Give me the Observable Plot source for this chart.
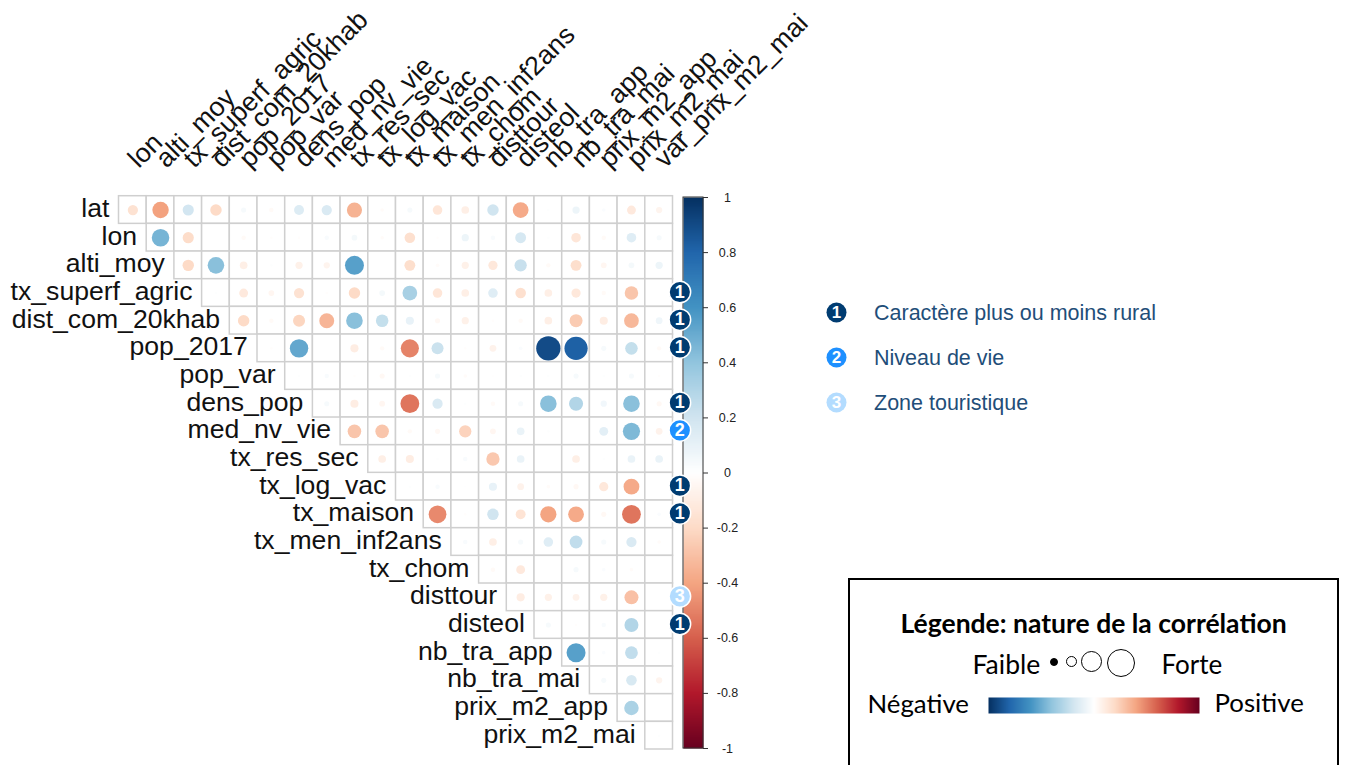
<!DOCTYPE html>
<html lang="fr">
<head>
<meta charset="utf-8">
<script src="https://cdn.jsdelivr.net/npm/d3@7"></script>
<script src="https://cdn.jsdelivr.net/npm/@observablehq/plot@0.6"></script>
<style>
html,body{margin:0;padding:0;background:#fff;width:1348px;height:765px;overflow:hidden}
#stage{position:relative;width:1348px;height:765px;overflow:hidden}
#stage>div.layer{position:absolute;left:0;top:0}
#box{position:absolute;left:848px;top:578px;width:487px;height:220px;border:2.5px solid #000;box-sizing:content-box;font-family:Lato,sans-serif;color:#000}
.lg{position:absolute;white-space:nowrap;line-height:1}
.ring{position:absolute;border:1.3px solid #000;border-radius:50%;box-sizing:border-box;background:#fff}
</style>
</head>
<body>
<div id="stage"></div>
<script>
const rowLabels = ["lat","lon","alti_moy","tx_superf_agric","dist_com_20khab","pop_2017","pop_var","dens_pop","med_nv_vie","tx_res_sec","tx_log_vac","tx_maison","tx_men_inf2ans","tx_chom","disttour","disteol","nb_tra_app","nb_tra_mai","prix_m2_app","prix_m2_mai"];
const colLabels = ["lon","alti_moy","tx_superf_agric","dist_com_20khab","pop_2017","pop_var","dens_pop","med_nv_vie","tx_res_sec","tx_log_vac","tx_maison","tx_men_inf2ans","tx_chom","disttour","disteol","nb_tra_app","nb_tra_mai","prix_m2_app","prix_m2_mai","var_prix_m2_mai"];

// upper triangle: each row starts at its own diagonal column
const r_lat = [-.16,-.41,.19,-.2,.04,-.03,.15,.16,-.35,-.02,.04,-.14,-.09,.2,-.38,.01,.08,.02,-.12,-.06];
const r_lon = [.47,-.19,0,-.03,-.01,-.01,.03,.05,-.02,-.17,-.01,.08,.03,.18,.01,-.14,-.03,.14,.04];
const r_alti = [-.2,.42,-.09,.01,-.08,-.06,.55,0,-.18,-.02,-.08,-.13,.23,-.03,-.18,-.05,.05,.08];
const r_superf = [.01,-.12,-.05,-.16,-.01,-.2,.05,.33,-.14,-.09,.14,-.17,-.09,-.13,-.03,-.28,0];
const r_dist = [-.2,-.03,-.22,-.34,.42,.24,.1,-.04,-.08,-.01,-.03,-.09,-.26,-.1,-.33,.07];
const r_pop17 = [-.01,.52,0,-.1,-.03,-.5,.22,-.01,-.07,.02,.9,.82,.04,.24,-.03];
const r_popvar = [.01,.03,-.01,-.04,.01,.04,-.02,-.005,.01,.01,.04,.01,.04,-.01];
const r_dens = [.04,-.1,-.05,-.54,.16,.01,-.03,.04,.42,.3,.06,.42,-.04];
const r_med = [-.28,-.28,-.03,-.04,-.23,-.05,.09,.01,0,.12,.45,-.07];
const r_res = [-.09,-.1,.01,.03,-.27,.09,0,-.09,.01,.09,.09];
const r_log = [.01,.03,.005,.1,-.07,-.02,-.04,-.13,-.38,0];
const r_maison = [-.48,-.01,.2,-.15,-.4,-.38,-.04,-.54,.02];
const r_men = [.03,-.09,.04,.14,.25,.04,.16,-.02];
const r_chom = [-.03,-.12,0,.04,.02,-.02,0];
const r_disttour = [-.1,-.08,-.07,-.08,-.3,0];
const r_disteol = [.04,-.01,.03,.3,0];
const r_app = [.55,.02,.25,.01];
const r_mai = [.04,.17,-.06];
const r_pxapp = [.32,0];
const r_pxmai = [.01];
const rows = [r_lat,r_lon,r_alti,r_superf,r_dist,r_pop17,r_popvar,r_dens,r_med,r_res,r_log,r_maison,r_men,r_chom,r_disttour,r_disteol,r_app,r_mai,r_pxapp,r_pxmai];

const cells = rows.flatMap((vals,i)=>vals.map((v,k)=>({row:rowLabels[i],col:colLabels[i+k],v})));
const diag = rowLabels.map((r,i)=>({row:r,col:colLabels[i]}));

const colorTicks = [-1,-.8,-.6,-.4,-.2,0,.2,.4,.6,.8,1];
const rampColors = ["#67001F","#B2182B","#D6604D","#F4A582","#FDDBC7","#FFFFFF","#D1E5F0","#92C5DE","#4393C3","#2166AC","#053061"];
const colorScale = {type:"linear",domain:colorTicks,range:rampColors,interpolate:"rgb"};

// themes annotated beside the matrix
const themes = ["Caractère plus ou moins rural","Niveau de vie","Zone touristique"];
const themeNums = ["1","2","3"];
const themeColors = ["#003c71","#1e90ff","#b3dcff"];
const badgeRows = ["tx_superf_agric","dist_com_20khab","pop_2017","dens_pop","med_nv_vie","tx_log_vac","tx_maison","disttour","disteol"];
const badgeThemes = [0,0,0,0,1,0,0,2,0];
const badges = badgeRows.map((row,i)=>({row,t:badgeThemes[i]}));

const labelFont = "Liberation Sans, Arial, sans-serif";
const noBg = {background:"transparent",overflow:"visible"};

const stage = document.getElementById("stage");
function addLayer(el){const d=document.createElement("div");d.className="layer";d.appendChild(el);stage.appendChild(d);}

// colour bar
addLayer(Plot.plot({
  width:800,height:765,margin:0,style:noBg,
  x:{domain:[0,1],range:[683,703],axis:null},
  y:{domain:[-1,1],range:[748,197],axis:null},
  color:colorScale,
  marks:[
    Plot.raster({fill:(x,y)=>y,x1:0,x2:1,y1:-1,y2:1,width:1,height:300}),
    Plot.rect([0],{x1:0,x2:1,y1:-1,y2:1,stroke:"#333",strokeWidth:1,fill:"none"}),
    Plot.ruleY(colorTicks,{y:d=>d,x1:1,x2:1.25,stroke:"#333"}),
    Plot.text(colorTicks,{y:d=>d,x:1,text:d=>String(d),dx:24,fontSize:12.5,fontFamily:labelFont,fill:"#222"})
  ]
}));

// matrix
addLayer(Plot.plot({
  width:1348,height:765,margin:0,style:noBg,
  x:{domain:colLabels,range:[118.5,672.5],padding:0,round:false,axis:null},
  y:{domain:rowLabels,range:[195.7,749],padding:0,round:false,axis:null},
  color:colorScale,
  r:{type:"sqrt",domain:[0,1],range:[0,12.8]},
  marks:[
    Plot.cell(cells,{x:"col",y:"row",fill:"white",stroke:"#cfcfcf",strokeWidth:1.5}),
    Plot.dot(cells.filter(d=>d.v!==0),{x:"col",y:"row",r:d=>Math.abs(d.v),fill:"v"}),
    Plot.text(diag,{x:"col",y:"row",text:"row",textAnchor:"end",dx:-23.5,dy:-1.5,fontSize:26.6,fontFamily:labelFont,fill:"#111"}),
    Plot.text(colLabels,{x:d=>d,y:()=>"lat",text:d=>d,textAnchor:"start",rotate:-45,dx:0,dy:-47,fontSize:26.6,fontFamily:labelFont,fill:"#111"}),
    Plot.dot(badges,{x:()=>"var_prix_m2_mai",y:"row",r:10.8,dx:20.7,dy:-1,fill:d=>themeColors[d.t],stroke:"white",strokeWidth:1.5}),
    Plot.text(badges,{x:()=>"var_prix_m2_mai",y:"row",text:d=>themeNums[d.t],dx:20.7,dy:-1,fill:"white",fontSize:18,fontWeight:"bold",fontFamily:labelFont})
  ]
}));

// theme key
addLayer(Plot.plot({
  width:1348,height:765,margin:0,style:noBg,
  y:{type:"point",domain:themes,range:[312,402],padding:0,round:false,axis:null},
  marks:[
    Plot.dot(themes,{y:d=>d,frameAnchor:"left",dx:836,r:10,fill:(d,i)=>themeColors[i]}),
    Plot.text(themes,{y:d=>d,text:(d,i)=>themeNums[i],frameAnchor:"left",dx:836,textAnchor:"middle",fill:"white",fontSize:17,fontWeight:"bold",fontFamily:labelFont}),
    Plot.text(themes,{y:d=>d,text:d=>d,frameAnchor:"left",dx:873.5,dy:0.5,textAnchor:"start",fill:"#1f4e79",fontSize:21.5,fontFamily:labelFont})
  ]
}));

// nature legend
const box = document.createElement("div");
box.id = "box";
stage.appendChild(box);
const ox = 850.5, oy = 580.5;
function lg(txt,left,top,size,bold){const e=document.createElement("div");e.className="lg";e.textContent=txt;e.style.left=(left-ox)+"px";e.style.top=(top-oy)+"px";e.style.fontSize=size+"px";if(bold)e.style.fontWeight="bold";box.appendChild(e);return e;}
lg("Légende: nature de la corrélation",901,610,26.5,true);
lg("Faible",973,651,26.5);
lg("Forte",1162,651,26);
lg("Négative",868,691,25.8);
lg("Positive",1215,690,25.8);
function ring(cx,cy,r,fill){const e=document.createElement("div");e.className="ring";e.style.left=(cx-r-ox)+"px";e.style.top=(cy-r-oy)+"px";e.style.width=e.style.height=(2*r)+"px";if(fill)e.style.background=fill;box.appendChild(e);}
ring(1054,662,4,"#000");ring(1072,662,5.5);ring(1092,662,10.5);ring(1121,663,14);
const grad = document.createElement("div");
grad.style.cssText="position:absolute;left:"+(988-ox)+"px;top:"+(697-oy)+"px";
grad.appendChild(Plot.plot({
  width:211,height:16,margin:0,style:noBg,
  x:{domain:[1,-1],range:[0,211],axis:null},
  y:{domain:[0,1],range:[16,0],axis:null},
  color:colorScale,
  marks:[Plot.raster({fill:(x,y)=>x,x1:1,x2:-1,y1:0,y2:1,width:211,height:1})]
}));
box.appendChild(grad);
</script>
</body>
</html>
